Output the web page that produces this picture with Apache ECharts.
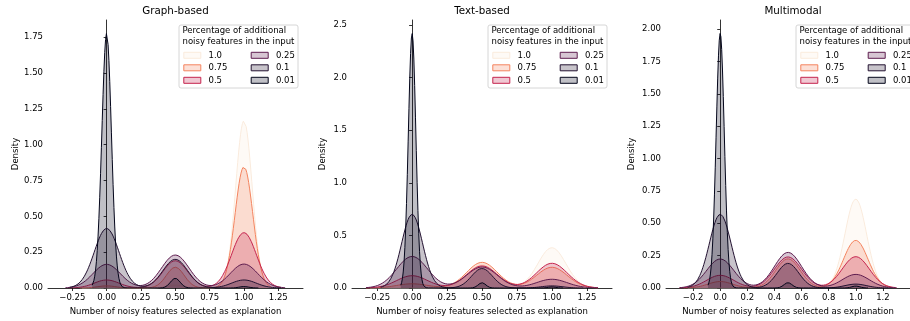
<!DOCTYPE html>
<html><head><meta charset="utf-8">
<script src="https://cdn.jsdelivr.net/npm/echarts@6/dist/echarts.min.js"></script>
<style>html,body{margin:0;padding:0;background:#fff}#c{width:910px;height:321px}</style>
</head><body><div id="c"></div>
<script>
// ---------- data ----------
const levels = ['1.0', '0.75', '0.5', '0.25', '0.1', '0.01'];
const levelColors = ['#faebdd', '#f4845f', '#c5244e', '#5e1d4f', '#231231', '#03051a'];
const panelTitles = ['Graph-based', 'Text-based', 'Multimodal'];
const modeCenters = [0, 0.5, 1];

// density peak heights at x = 0, 0.5, 1 and kernel bandwidth, per level
const graphAt0    = [0.0,   0.015, 0.056, 0.165, 0.415, 1.776];
const graphAtHalf = [0.02,  0.145, 0.19,  0.23,  0.20,  0.068];
const graphAt1    = [1.167, 0.846, 0.386, 0.167, 0.056, 0.01];
const graphBw     = [0.06,  0.065, 0.09,  0.10,  0.09,  0.035];

const textAt0     = [0.0,   0.04,  0.117, 0.30,  0.70,  2.42];
const textAtHalf  = [0.22,  0.244, 0.21,  0.20,  0.185, 0.05];
const textAt1     = [0.383, 0.197, 0.235, 0.083, 0.02,  0.01];
const textBw      = [0.10,  0.11,  0.11,  0.11,  0.075, 0.027];

const multiAt0    = [0.0,   0.05,  0.098, 0.224, 0.569, 1.967];
const multiAtHalf = [0.20,  0.225, 0.24,  0.275, 0.19,  0.041];
const multiAt1    = [0.687, 0.368, 0.242, 0.105, 0.03,  0.015];
const multiBw     = [0.08,  0.09,  0.10,  0.10,  0.08,  0.03];

// tick labels
const xTicksGraph = [-0.25, 0, 0.25, 0.5, 0.75, 1, 1.25];
const xTicksText  = [-0.25, 0, 0.25, 0.5, 0.75, 1, 1.25];
const xTicksMulti = [-0.2, 0, 0.2, 0.4, 0.6, 0.8, 1.0, 1.2];
const yTicksGraph = [0, 0.25, 0.5, 0.75, 1, 1.25, 1.5, 1.75];
const yTicksText  = [0, 0.5, 1, 1.5, 2, 2.5];
const yTicksMulti = [0, 0.25, 0.5, 0.75, 1, 1.25, 1.5, 1.75, 2];

// ---------- build ----------
const panels = [
  {at: [graphAt0, graphAtHalf, graphAt1], bw: graphBw, xt: xTicksGraph, yt: yTicksGraph, xd: 2, yd: 2,
   box: {left: 48, width: 255}, xr: [-0.427, 1.43], ymax: 1.869, nameGap: 28},
  {at: [textAt0, textAtHalf, textAt1], bw: textBw, xt: xTicksText, yt: yTicksText, xd: 2, yd: 1,
   box: {left: 352, width: 260}, xr: [-0.43, 1.43], ymax: 2.548, nameGap: 25},
  {at: [multiAt0, multiAtHalf, multiAt1], bw: multiBw, xt: xTicksMulti, yt: yTicksMulti, xd: 1, yd: 2,
   box: {left: 666, width: 254}, xr: [-0.40, 1.40], ymax: 2.07, nameGap: 30}
];
const TOP = 20, BOTTOM_Y = 288;
const FONT = 'DejaVu Sans';
const fmt = (d) => (v) => (v < 0 ? '\u2212' : '') + Math.abs(v).toFixed(d);
function rgba(hex, a) {
  const n = parseInt(hex.slice(1), 16);
  return `rgba(${(n >> 16) & 255},${(n >> 8) & 255},${n & 255},${a})`;
}

const grid = [], xAxis = [], yAxis = [], series = [], title = [], legend = [], graphic = [];
panels.forEach((p, pi) => {
  grid.push({left: p.box.left, top: TOP, width: p.box.width, height: BOTTOM_Y - TOP, containLabel: false});
  xAxis.push({
    type: 'value', gridIndex: pi, min: p.xr[0], max: p.xr[1],
    axisLine: {lineStyle: {color: '#000', width: 0.8}},
    axisTick: {customValues: p.xt, length: 3, lineStyle: {color: '#000', width: 0.8}},
    axisLabel: {customValues: p.xt, formatter: fmt(p.xd), fontSize: 8.5, fontFamily: FONT, color: '#000', margin: 5},
    splitLine: {show: false},
    name: 'Number of noisy features selected as explanation', nameLocation: 'middle', nameGap: 17,
    nameTextStyle: {fontSize: 8.5, fontFamily: FONT, color: '#000'}
  });
  yAxis.push({
    type: 'value', gridIndex: pi, min: 0, max: p.ymax,
    axisLine: {show: true, lineStyle: {color: '#000', width: 0.8}},
    axisTick: {show: true, customValues: p.yt, length: 3, lineStyle: {color: '#000', width: 0.8}},
    axisLabel: {customValues: p.yt, formatter: fmt(p.yd), fontSize: 8.5, fontFamily: FONT, color: '#000', margin: 5},
    splitLine: {show: false},
    name: 'Density', nameLocation: 'middle', nameGap: p.nameGap, nameRotate: 90,
    nameTextStyle: {fontSize: 8.5, fontFamily: FONT, color: '#000'}
  });
  levels.forEach((lv, li) => {
    const s = p.bw[li];
    const x0 = modeCenters[0] - 3 * s, x1 = modeCenters[2] + 3 * s;
    const pts = [];
    const N = 200;
    for (let k = 0; k < N; k++) {
      const x = x0 + (x1 - x0) * k / (N - 1);
      let y = 0;
      modeCenters.forEach((c, ci) => { y += p.at[ci][li] * Math.exp(-((x - c) * (x - c)) / (2 * s * s)); });
      pts.push([x, y]);
    }
    series.push({
      type: 'line', name: lv, xAxisIndex: pi, yAxisIndex: pi, data: pts,
      showSymbol: false, symbol: 'none', silent: true, smooth: false,
      lineStyle: {color: levelColors[li], width: 1},
      itemStyle: {color: levelColors[li]},
      areaStyle: {color: levelColors[li], opacity: 0.25},
      z: 2 + li * 0.01
    });
  });
  const cx = p.box.left + p.box.width / 2;
  title.push({text: panelTitles[pi], left: cx, top: 6, textAlign: 'center', padding: 0,
    textStyle: {fontSize: 10.3, fontWeight: 'normal', fontFamily: FONT, color: '#000'}});
  // legend box
  const bx = p.box.left + p.box.width - 5 - 119, by = 25;
  graphic.push({type: 'rect', z: 3, silent: true, shape: {x: bx, y: by, width: 119, height: 63, r: 2},
    style: {fill: 'rgba(255,255,255,0.8)', stroke: '#cccccc', lineWidth: 0.8}});
  ['Percentage of additional', 'noisy features in the input'].forEach((t, ti) => {
    graphic.push({type: 'text', z: 5, silent: true,
      style: {text: t, x: bx + 3.5, y: 31 + ti * 10.3, fontSize: 8.5, fontFamily: FONT, fill: '#000', verticalAlign: 'middle'}});
  });
  [[0, 3], [3, 6]].forEach((rg, ci) => {
    legend.push({
      orient: 'vertical', left: bx + 4.3 + ci * 67.4, top: 50.3, padding: 0,
      itemWidth: 17, itemHeight: 6, itemGap: 2.5, selectedMode: false, z: 6,
      textStyle: {fontSize: 8.5, fontFamily: FONT, color: '#000', lineHeight: 10, padding: [0, 0, 0, 2.7]},
      data: levels.slice(rg[0], rg[1]).map((lv, k) => {
        const c = levelColors[rg[0] + k];
        return {name: lv, icon: 'rect', itemStyle: {color: rgba(c, 0.25), borderColor: c, borderWidth: 1}};
      })
    });
  });
});

const chart = echarts.init(document.getElementById('c'), null, {renderer: 'canvas'});
chart.setOption({animation: false, backgroundColor: '#fff', grid, xAxis, yAxis, series, title, legend, graphic});
</script>
</body></html>
